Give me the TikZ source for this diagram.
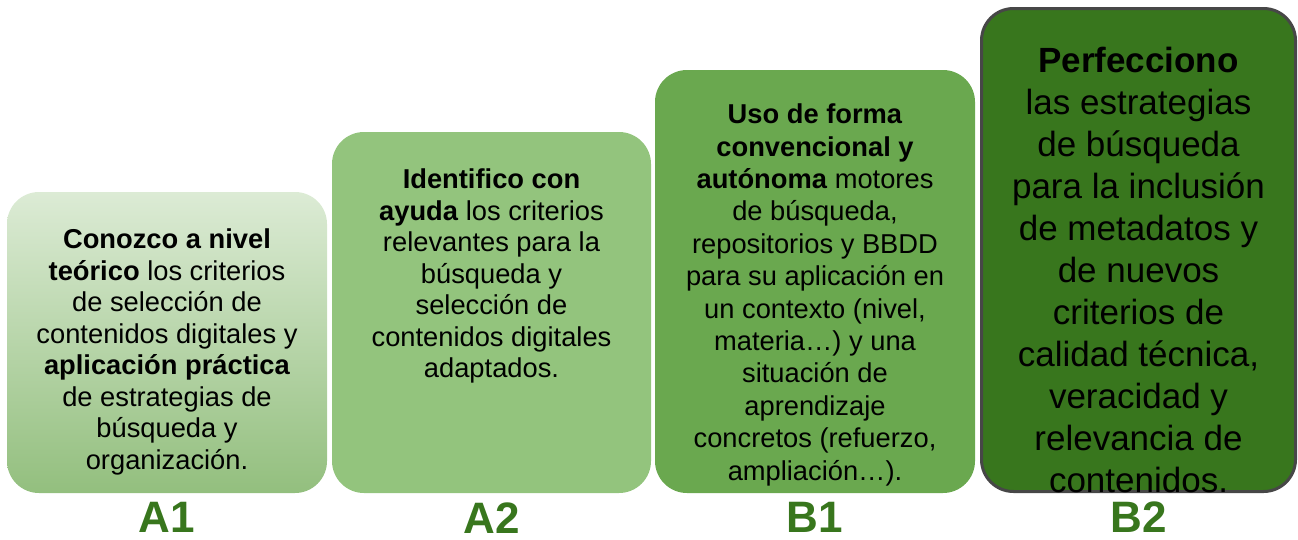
\documentclass[tikz,border=0pt]{standalone}
\usepackage{fontspec}
\setmainfont{Liberation Sans}
\usetikzlibrary{positioning}
\definecolor{lvlonetop}{HTML}{DCEBD5}
\definecolor{lvlonebot}{HTML}{93BF7E}
\definecolor{lvltwo}{HTML}{93C47D}
\definecolor{lvlthree}{HTML}{6AA84F}
\definecolor{lvlfour}{HTML}{38761D}
\definecolor{lvledge}{HTML}{474747}
\definecolor{lvlgreen}{HTML}{38761D}

\begin{document}
\begin{tikzpicture}[
  x=1pt,y=-1pt,
  box/.style={rounded corners=32pt,inner sep=0pt},
  blurb/.style={align=center,inner sep=0pt,
    font=\fontsize{27.3}{31.5}\selectfont},
  lvl/.style={font=\fontsize{44}{44}\selectfont\bfseries,color=lvlgreen,
    inner sep=0pt}
]
\useasboundingbox (0,0) rectangle (1298,539);

% the four steps
\node[box,top color=lvlonetop,bottom color=lvlonebot,
  minimum width=320pt,minimum height=301pt] (a1) at (167,342.5) {};
\node[box,fill=lvltwo,minimum width=319pt,minimum height=361pt]
  (a2) at (491.5,312.5) {};
\node[box,fill=lvlthree,minimum width=320pt,minimum height=423pt]
  (b1) at (815,281.5) {};
\node[box,fill=lvlfour,draw=lvledge,line width=3pt,
  minimum width=314pt,minimum height=483pt] (b2) at (1138.5,250) {};

% texts
\node[blurb,below=37pt of a1.north] (a1txt) {\textbf{Conozco a nivel}\\
  \textbf{teórico} los criterios\\ de selección de\\ contenidos digitales y\\
  \textbf{aplicación práctica}\\ de estrategias de\\ búsqueda y\\ organización.};
\node[blurb,below=37pt of a2.north] (a2txt) {\textbf{Identifico con}\\
  \textbf{ayuda} los criterios\\ relevantes para la\\ búsqueda y\\
  selección de\\ contenidos digitales\\ adaptados.};
\node[blurb,below=34pt of b1.north,font=\fontsize{27.3}{32.4}\selectfont]
  (b1txt) {\textbf{Uso de forma}\\ \textbf{convencional y}\\
  \textbf{autónoma} motores\\ de búsqueda,\\ repositorios y BBDD\\
  para su aplicación en\\ un contexto (nivel,\\ materia…) y una\\
  situación de\\ aprendizaje\\ concretos (refuerzo,\\ ampliación…).};
\node[blurb,below=40pt of b2.north,font=\fontsize{35}{42}\selectfont]
  (b2txt) {\textbf{Perfecciono}\\ las estrategias\\ de búsqueda\\
  para la inclusión\\ de metadatos y\\ de nuevos\\ criterios de\\
  calidad técnica,\\ veracidad y\\ relevancia de\\ contenidos.};

% level names
\node[lvl,below=9pt of a1] (a1lab) {A1};
\node[lvl,below=9pt of a2] (a2lab) {A2};
\node[lvl,below=9pt of b1] (b1lab) {B1};
\node[lvl,below=9pt of b2] (b2lab) {B2};
\end{tikzpicture}
\end{document}
